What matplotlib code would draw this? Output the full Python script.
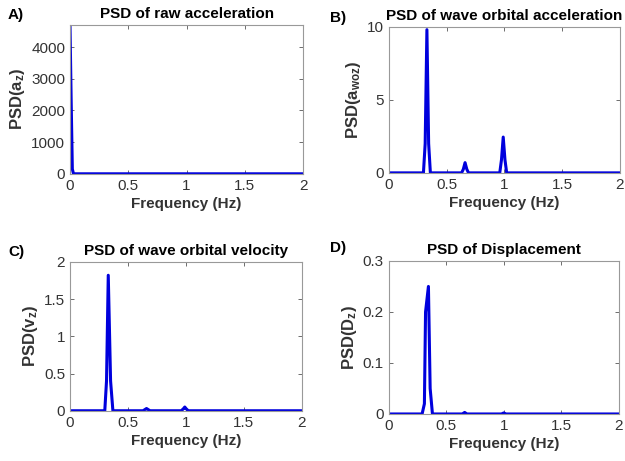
import numpy as np
import matplotlib.pyplot as plt

plt.rcParams['font.family'] = ['Liberation Sans', 'DejaVu Sans']
plt.rcParams['mathtext.fontset'] = 'custom'
plt.rcParams['mathtext.rm'] = 'Liberation Sans:bold'
plt.rcParams['mathtext.bf'] = 'Liberation Sans:bold'
plt.rcParams['mathtext.it'] = 'Liberation Sans:bold'

# PSD values (frequency in Hz)
freq_a = [0, 0.01, 0.02, 0.03, 2.0]
psd_a = [4700, 2300, 150, 0, 0]

freq_b = [0, 0.30, 0.315, 0.33, 0.345, 0.36, 0.63, 0.645, 0.66, 0.675, 0.69,
          0.96, 0.975, 0.99, 1.005, 1.02, 2.0]
psd_b = [0, 0, 2.0, 9.8, 2.0, 0, 0, 0.25, 0.7, 0.25, 0,
         0, 0.9, 2.45, 0.9, 0, 0]

freq_c = [0, 0.30, 0.315, 0.33, 0.35, 0.37, 0.63, 0.65, 0.66, 0.67, 0.69,
          0.96, 0.98, 0.99, 1.0, 1.02, 2.0]
psd_c = [0, 0, 0.4, 1.82, 0.4, 0, 0, 0.02, 0.03, 0.02, 0,
         0, 0.03, 0.05, 0.03, 0, 0]

freq_d = [0, 0.29, 0.31, 0.32, 0.345, 0.36, 0.38, 0.64, 0.66, 0.68,
          0.98, 1.0, 1.02, 2.0]
psd_d = [0, 0, 0.02, 0.2, 0.25, 0.05, 0, 0, 0.003, 0, 0, 0.002, 0, 0]

panels = [
    ("A)", "PSD of raw acceleration", r"PSD(a$_{z}$)", freq_a, psd_a, (0, 4700), [0, 1000, 2000, 3000, 4000]),
    ("B)", "PSD of wave orbital acceleration", r"PSD(a$_{woz}$)", freq_b, psd_b, (0, 10), [0, 5, 10]),
    ("C)", "PSD of wave orbital velocity", r"PSD(v$_{z}$)", freq_c, psd_c, (0, 2), [0, 0.5, 1, 1.5, 2]),
    ("D)", "PSD of Displacement", r"PSD(D$_{z}$)", freq_d, psd_d, (0, 0.3), [0, 0.1, 0.2, 0.3]),
]

# axes boxes in figure fractions [left, bottom, width, height]
boxes = [
    [0.112, 0.623, 0.373, 0.323],
    [0.622, 0.625, 0.370, 0.317],
    [0.112, 0.109, 0.371, 0.323],
    [0.622, 0.102, 0.368, 0.332],
]
label_pos = [(0.013, 0.967), (0.528, 0.960), (0.013, 0.453), (0.528, 0.462)]

fig = plt.figure(figsize=(6.25, 4.61), dpi=100)

for (tag, title, ylab, f, p, ylim, yt), box, lp in zip(panels, boxes, label_pos):
    ax = fig.add_axes(box)
    ax.plot(f, p, color='#0000dd', lw=2.2)
    ax.set_xlim(0, 2)
    ax.set_ylim(*ylim)
    ax.set_xticks([0, 0.5, 1, 1.5, 2])
    ax.set_xticklabels(['0', '0.5', '1', '1.5', '2'])
    ax.set_yticks(yt)
    ax.set_yticklabels([('%g' % v) for v in yt])
    ax.tick_params(direction='in', top=True, right=True, length=3,
                   labelsize=11, colors='#555555', labelcolor='#333333', width=0.6)
    for s in ax.spines.values():
        s.set_color('#999999')
        s.set_linewidth(0.8)
    ax.set_title(title, fontsize=11, fontweight='bold', pad=5)
    ax.set_xlabel("Frequency (Hz)", fontsize=11, fontweight='bold', color='#333333', labelpad=3)
    ax.set_ylabel(ylab, fontsize=12, fontweight='bold', color='#333333', labelpad=3)
    fig.text(lp[0], lp[1], tag, fontsize=11, fontweight='bold', va='center', ha='left')

fig.savefig("out.png", dpi=100)
